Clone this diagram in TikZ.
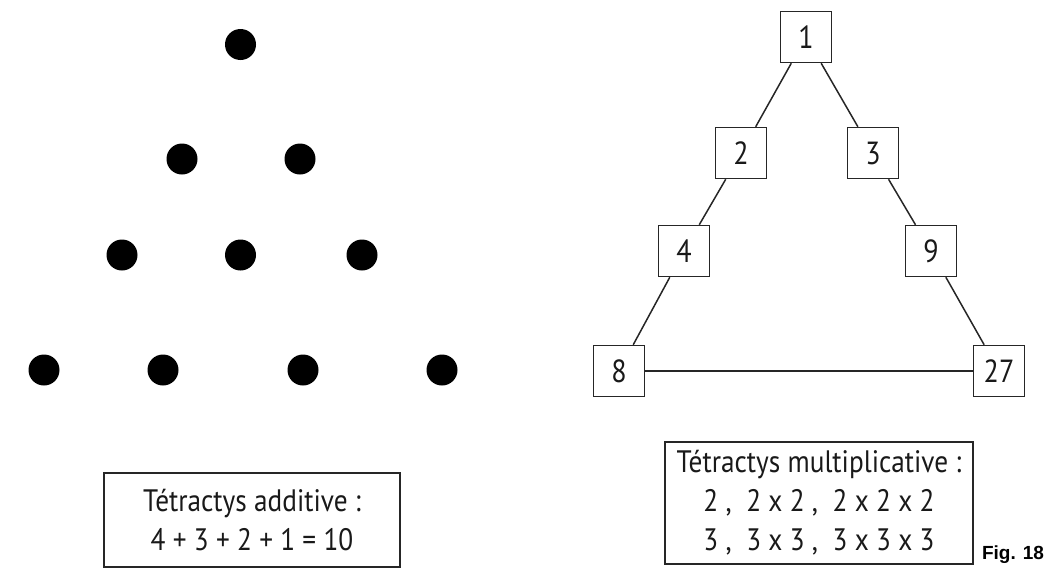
\documentclass[tikz,border=0pt]{standalone}
\usepackage{fontspec}
\setmainfont{PT Sans}[FakeStretch=0.88]
\newfontfamily\figfont{Liberation Sans}
\tikzset{
  dot/.style={circle,fill=black,minimum size=31pt,inner sep=0pt},
  numbox/.style={draw=black!85,line width=1.5pt,minimum size=51pt,inner sep=0pt,text=black!90,font=\fontsize{32}{36}\selectfont},
  txtbox/.style={draw=black!85,line width=1.5pt,inner sep=0pt,text=black!90,align=center,font=\fontsize{31}{39}\selectfont},
  conn/.style={draw=black!85,line width=1.5pt}
}
\begin{document}
\begin{tikzpicture}[x=1pt,y=-1pt]
\useasboundingbox (0,0) rectangle (1048,581);
% dots
\node[dot] (d1) at (240.5,44.5) {};
\node[dot] (d2) at (182,159) {};
\node[dot] (d3) at (300,159) {};
\node[dot] (d4) at (122,255) {};
\node[dot] (d5) at (240.5,255) {};
\node[dot] (d6) at (362,255) {};
\node[dot] (d7) at (44,370) {};
\node[dot] (d8) at (163,370) {};
\node[dot] (d9) at (303,370) {};
\node[dot] (d10) at (442,370) {};
% left box
\node[txtbox,minimum width=296pt,minimum height=94pt] (addbox) at (252,520) {T\'etractys additive :\\4 + 3 + 2 + 1 = 10};
% number boxes
\node[numbox] (n1) at (806,37) {1};
\node[numbox] (n2) at (741,153) {2};
\node[numbox] (n3) at (873,153) {3};
\node[numbox] (n4) at (684,251) {4};
\node[numbox] (n9) at (931,251) {9};
\node[numbox] (n8) at (619,371) {8};
\node[numbox] (n27) at (999,371) {27};
\draw[conn] (n1) -- (n2);
\draw[conn] (n1) -- (n3);
\draw[conn] (n2) -- (n4);
\draw[conn] (n3) -- (n9);
\draw[conn] (n4) -- (n8);
\draw[conn] (n9) -- (n27);
\draw[conn] (n8) -- (n27);
% right box
\node[txtbox,minimum width=308pt,minimum height=122pt] (mulbox) at (819,503) {T\'etractys multiplicative :\\2 ,\ \ 2 x 2 ,\ \ 2 x 2 x 2\\3 ,\ \ 3 x 3 ,\ \ 3 x 3 x 3};
\node[font=\figfont\bfseries\fontsize{19}{22}\selectfont,text=black,inner sep=0pt] (fig) at (1013,555) {Fig. 18};
\end{tikzpicture}
\end{document}
